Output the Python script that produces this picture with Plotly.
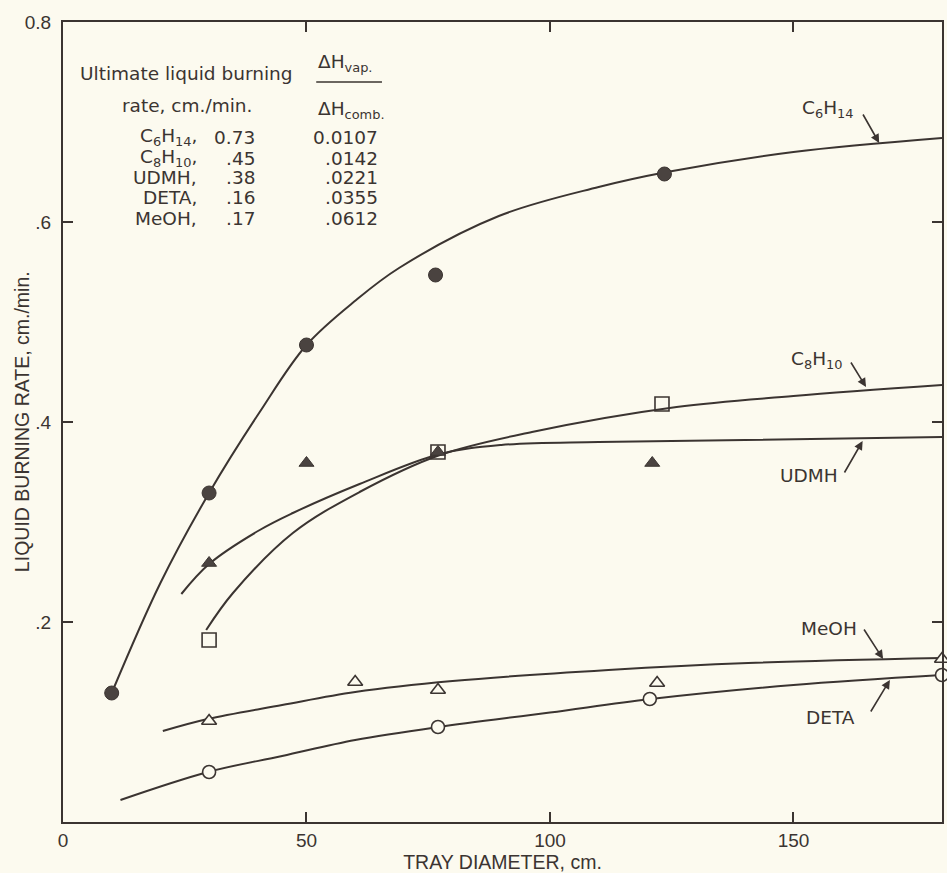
import plotly.graph_objects as go

# ---------------- data ----------------
# measured points (tray diameter, cm ; burning rate, cm/min)
c6h14_x = [10, 30, 50, 76.5, 123.5]
c6h14_y = [0.129, 0.329, 0.477, 0.547, 0.648]

c8h10_x = [30, 77, 123]
c8h10_y = [0.182, 0.370, 0.418]

udmh_x = [30, 50, 77, 121]
udmh_y = [0.259, 0.359, 0.370, 0.359]

meoh_x = [30, 60, 77, 122, 180.5]
meoh_y = [0.101, 0.140, 0.132, 0.139, 0.163]

deta_x = [30, 77, 120.5, 180.5]
deta_y = [0.050, 0.095, 0.123, 0.147]

# smooth drawn curves
c6h14_cx = [10, 20, 30, 40.4, 50, 60.2, 69, 89.5, 110, 124, 150, 180.5]
c6h14_cy = [0.129, 0.239, 0.329, 0.410, 0.477, 0.522, 0.554, 0.606, 0.635, 0.650, 0.670, 0.684]

c8h10_cx = [29.4, 34.9, 47.2, 60.9, 77.4, 96.3, 126, 150, 180.5]
c8h10_cy = [0.192, 0.229, 0.289, 0.330, 0.367, 0.390, 0.415, 0.426, 0.437]

udmh_cx = [24.3, 30, 40.4, 47.2, 60.9, 77.4, 90, 110, 140, 180.5]
udmh_cy = [0.228, 0.258, 0.292, 0.309, 0.338, 0.368, 0.377, 0.380, 0.382, 0.385]

meoh_cx = [20.5, 29.7, 45, 60, 80, 112, 140.7, 180.5]
meoh_cy = [0.091, 0.103, 0.117, 0.130, 0.141, 0.152, 0.159, 0.164]

deta_cx = [11.8, 29.8, 45, 60, 77, 100, 120.7, 150, 180.5]
deta_cy = [0.022, 0.050, 0.066, 0.082, 0.095, 0.1095, 0.123, 0.137, 0.147]

# inset table
fuel_names = ["C<sub>6</sub>H<sub>14</sub>,", "C<sub>8</sub>H<sub>10</sub>,", "UDMH,", "DETA,", "MeOH,"]
ultimate_rates = ["0.73", ".45", ".38", ".16", ".17"]
heat_ratios = ["0.0107", ".0142", ".0221", ".0355", ".0612"]

x_tickvals = [0, 50, 100, 150]
x_ticktext = ["0", "50", "100", "150"]
y_tickvals = [0.2, 0.4, 0.6, 0.8]
y_ticktext = [".2", ".4", ".6", "0.8"]

# ---------------- styling ----------------
BG = "#fcfaef"
INK = "#3b3431"
FILL = "#4a4340"
FONT = "DejaVu Sans"
AXFONT = "Liberation Sans"

fig = go.Figure()

def curve(x, y):
    fig.add_trace(go.Scatter(x=x, y=y, mode="lines", line=dict(color=INK, width=2, shape="spline", smoothing=1.0),
                             hoverinfo="skip", showlegend=False))

for cx, cy in [(c6h14_cx, c6h14_cy), (c8h10_cx, c8h10_cy), (udmh_cx, udmh_cy), (meoh_cx, meoh_cy), (deta_cx, deta_cy)]:
    curve(cx, cy)

def pts(x, y, symbol, size, fill, lw=1.5):
    fig.add_trace(go.Scatter(x=x, y=y, mode="markers", cliponaxis=False,
                             marker=dict(symbol=symbol, size=size, color=fill, line=dict(color=INK, width=lw)),
                             showlegend=False))

pts(c6h14_x, c6h14_y, "circle", 14, FILL, 1)
pts(udmh_x, udmh_y, "triangle-up", 13, FILL, 1)
pts(c8h10_x, c8h10_y, "square", 14, "rgba(0,0,0,0)", 1.6)
pts(meoh_x, meoh_y, "triangle-up", 13, BG, 1.6)
pts(deta_x, deta_y, "circle", 13, BG, 1.6)

ann = []
lf = dict(family=FONT, size=18.5, color=INK)
# curve labels with arrows
labels = [
    ("C<sub>6</sub>H<sub>14</sub>", 157.0, 0.713, 167.6, 0.679, -17, -30),
    ("C<sub>8</sub>H<sub>10</sub>", 154.9, 0.462, 164.9, 0.435, -16, -26),
    ("UDMH", 153.1, 0.347, 164.2, 0.381, -19, 33),
    ("MeOH", 157.2, 0.194, 168.4, 0.163, -20, -31),
    ("DETA", 157.6, 0.105, 169.8, 0.142, -20, 33),
]
for txt, tx, ty, hx, hy, ax, ay in labels:
    ann.append(dict(x=tx, y=ty, xref="x", yref="y", text=txt, showarrow=False, font=lf))
    ann.append(dict(x=hx, y=hy, xref="x", yref="y", text="", showarrow=True, ax=ax, ay=ay,
                    arrowhead=2, arrowsize=1.1, arrowwidth=1.6, arrowcolor=INK))

# inset table
tf = dict(family=FONT, size=18.5, color=INK)
ann.append(dict(x=25.3, y=0.749, xref="x", yref="y", text="Ultimate liquid burning", showarrow=False, font=tf))
ann.append(dict(x=25.4, y=0.717, xref="x", yref="y", text="rate, cm./min.", showarrow=False, font=tf))
row_y = [0.685, 0.664, 0.645, 0.625, 0.604]
for name, r, h, yy in zip(fuel_names, ultimate_rates, heat_ratios, row_y):
    ann.append(dict(x=28.0, y=yy, xref="x", yref="y", text=name, showarrow=False, xanchor="right", font=tf))
    ann.append(dict(x=39.8, y=yy, xref="x", yref="y", text=r, showarrow=False, xanchor="right", font=tf))
    ann.append(dict(x=65.0, y=yy, xref="x", yref="y", text=h, showarrow=False, xanchor="right", font=tf))
ann.append(dict(x=52.0, y=0.759, xref="x", yref="y", text="ΔH<sub>vap.</sub>", showarrow=False, xanchor="left", font=tf))
ann.append(dict(x=52.0, y=0.712, xref="x", yref="y", text="ΔH<sub>comb.</sub>", showarrow=False, xanchor="left", font=tf))

# y axis title
ann.append(dict(x=-0.0465, y=0.5, xref="paper", yref="paper", xanchor="center", yanchor="middle",
                text="LIQUID BURNING RATE, cm./min.",
                textangle=-90, showarrow=False, font=dict(family=AXFONT, size=19.5, color=INK)))

fig.update_layout(
    width=947, height=873, autosize=False,
    margin=dict(l=63, r=3, t=22, b=51),
    paper_bgcolor=BG, plot_bgcolor=BG,
    annotations=ann,
    shapes=[dict(type="line", xref="x", yref="y", x0=52.0, x1=65.5, y0=0.740, y1=0.740,
                 line=dict(color=INK, width=1.6))],
)
fig.update_xaxes(range=[0, 180.5], showline=True, linewidth=2, linecolor=INK, mirror="ticks",
                 ticks="inside", ticklen=10, tickwidth=1.5, tickcolor=INK,
                 tickvals=x_tickvals, ticktext=x_ticktext, showgrid=False, zeroline=False,
                 tickfont=dict(family=AXFONT, size=19, color=INK),
                 title=dict(text="TRAY DIAMETER, cm.", font=dict(family=AXFONT, size=19.5, color=INK), standoff=0))
fig.update_yaxes(range=[0, 0.8], showline=True, linewidth=2, linecolor=INK, mirror="ticks",
                 ticks="inside", ticklen=10, tickwidth=1.5, tickcolor=INK,
                 tickvals=y_tickvals, ticktext=y_ticktext, showgrid=False, zeroline=False,
                 ticklabelstandoff=6,
                 tickfont=dict(family=AXFONT, size=19, color=INK))

fig.write_html("out.html", config={"displayModeBar": False},
               post_script="document.body.style.margin='0';document.body.style.background='%s';" % BG)
